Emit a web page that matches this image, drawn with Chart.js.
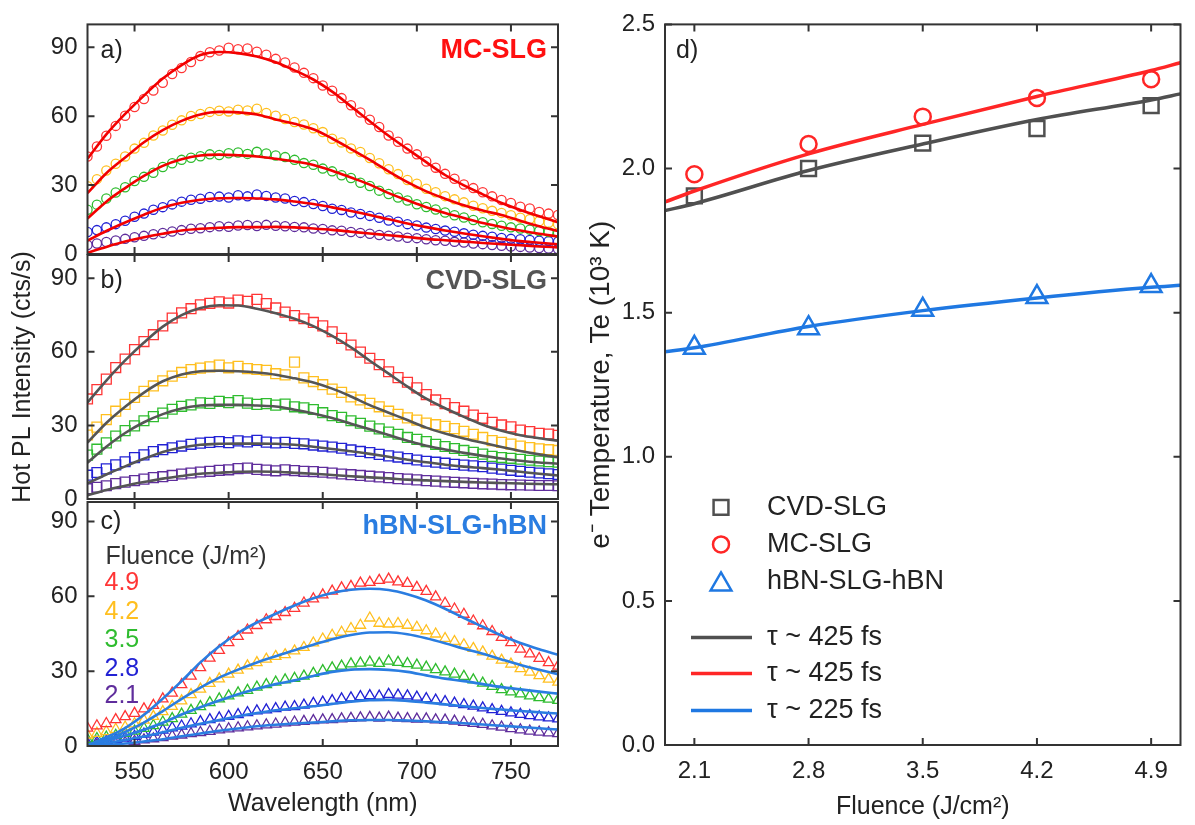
<!DOCTYPE html>
<html><head><meta charset="utf-8">
<script src="https://cdn.jsdelivr.net/npm/chart.js@4.4.0/dist/chart.umd.min.js"></script>
<style>
html,body{margin:0;padding:0;background:#fff;}
#wrap{position:relative;width:1195px;height:825px;overflow:hidden;}
canvas{position:absolute;left:0;top:0;}
</style></head><body>
<div id="wrap">
<canvas id="ca" width="1195" height="825"></canvas>
<canvas id="cb" width="1195" height="825"></canvas>
<canvas id="cc" width="1195" height="825"></canvas>
<canvas id="cd" width="1195" height="825"></canvas>
</div>
<script>
// ---------------- DATA ----------------
const wavelengths = [525,530,535,540,545,550,555,560,565,570,575,580,585,590,595,600,605,610,615,620,625,630,635,640,645,650,655,660,665,670,675,680,685,690,695,700,705,710,715,720,725,730,735,740,745,750,755,760,765,770,775];
const fitWavelengths = [525,535,545,555,565,575,585,595,605,615,625,635,645,655,665,675,685,695,705,715,725,735,745,755,765,775];
const wavelengthTicks = [550,600,650,700,750];
const intensityTicks = [0,30,60,90];
const fluenceLabels = ['4.9','4.2','3.5','2.8','2.1'];

// a) MC-SLG
const mcData49 = [42.5,46.8,51.5,55.8,60.2,64.0,67.5,71.2,74.6,78.4,81.0,83.6,86.2,87.9,88.6,89.8,89.2,89.5,88.1,86.8,85.0,83.4,81.2,78.9,76.6,73.4,71.1,67.9,64.8,61.6,58.5,55.3,51.6,48.9,45.9,43.4,40.3,37.6,34.9,32.8,30.3,28.7,26.9,25.1,23.5,22.2,20.6,19.8,18.3,17.6,17.0];
const mcData42 = [29.5,32.6,36.4,39.3,42.5,45.9,48.4,51.6,53.8,56.3,58.2,60.1,61.0,61.9,62.4,62.1,62.8,62.5,63.3,61.4,60.2,58.8,57.5,56.4,54.8,53.1,50.2,48.6,46.0,44.4,41.8,39.5,36.9,34.8,32.2,30.6,28.4,26.9,25.2,23.8,22.5,21.0,19.9,18.8,17.9,16.9,15.8,15.2,14.3,13.6,13.0];
const mcData35 = [19.3,21.5,24.2,26.8,29.1,31.8,33.6,35.4,37.9,39.5,41.0,41.9,42.6,43.4,43.1,43.9,44.2,43.6,44.5,43.8,42.9,42.2,41.0,39.6,38.9,37.2,36.0,34.3,33.1,31.0,29.6,27.6,26.1,24.6,23.3,21.7,20.5,19.4,18.1,16.9,15.9,14.8,13.8,13.1,12.3,11.6,11.1,10.6,10.0,9.6,9.2];
const mcData28 = [9.6,10.4,11.6,13.0,14.5,16.2,17.6,19.3,20.4,21.6,22.8,23.6,24.1,24.8,25.0,24.6,25.6,25.1,25.9,25.3,24.6,24.2,23.1,22.6,21.8,20.9,19.7,19.2,18.1,17.4,16.6,15.8,14.6,14.1,13.0,12.4,11.5,10.9,10.2,9.7,9.0,8.4,7.9,7.5,7.0,6.6,6.4,6.1,5.8,5.6,5.4];
const mcData21 = [3.9,4.6,5.2,5.9,6.6,7.3,7.9,8.6,9.2,9.8,10.4,11.0,11.2,11.7,12.1,11.9,12.4,12.6,12.2,12.7,12.3,12.1,11.8,11.6,11.1,10.9,10.3,10.1,9.6,9.2,8.8,8.3,8.0,7.6,7.1,6.9,6.4,6.0,5.8,5.3,5.0,4.6,4.3,3.9,3.6,3.3,3.1,2.8,2.6,2.4,2.2];
const mcFit49 = [41.5,52.1,61.0,69.0,76.4,82.3,86.7,88.0,87.5,86.0,83.5,80.0,76.0,70.7,64.3,57.8,51.5,45.7,40.0,34.4,29.9,26.0,22.2,19.2,16.4,13.8];
const mcFit42 = [26.5,35.2,42.0,48.7,54.0,58.0,60.8,61.9,61.7,60.8,58.6,56.7,54.3,50.3,45.7,41.0,36.0,31.3,27.3,24.1,21.2,18.9,17.0,14.5,12.1,10.0];
const mcFit35 = [15.5,22.8,28.7,34.0,38.4,41.3,42.9,43.3,43.0,42.5,41.5,40.3,38.8,36.3,33.3,30.2,26.5,23.4,20.4,17.9,15.7,13.5,11.8,10.2,8.8,7.6];
const mcFit28 = [5.8,10.0,13.7,17.1,20.2,22.3,23.6,24.3,24.4,24.2,23.8,22.9,21.8,20.3,18.7,17.0,15.1,13.3,11.7,10.2,8.9,7.7,6.6,5.6,4.9,4.2];
const mcFit21 = [0.6,3.1,5.4,7.3,8.8,10.2,11.0,11.4,11.7,11.7,11.8,11.6,11.1,10.5,9.7,8.9,8.2,7.4,6.6,6.0,5.4,4.8,4.3,3.8,3.3,2.9];

// b) CVD-SLG
const cvdData49 = [40.8,44.6,48.9,53.6,57.1,60.9,64.2,67.0,70.6,73.8,75.9,77.6,79.2,79.8,80.4,79.9,81.1,80.6,81.4,79.7,77.9,76.2,74.8,73.5,72.0,70.6,68.2,65.5,62.8,59.9,57.4,54.8,51.9,49.5,47.6,45.3,42.6,40.4,38.9,37.3,35.8,34.2,32.9,31.3,30.2,29.4,28.1,27.5,26.8,26.5,26.0];
const cvdData42 = [26.1,29.3,32.4,35.8,38.6,41.4,43.9,46.1,48.2,50.1,51.6,52.8,53.4,53.9,54.6,53.5,54.1,53.2,52.8,52.5,51.1,50.6,55.8,49.4,47.9,46.6,44.8,43.5,41.6,40.4,39.0,37.6,35.8,34.5,33.1,32.2,31.0,30.3,29.6,28.7,27.6,26.4,25.1,23.8,23.1,22.4,21.6,21.0,20.5,20.1,19.8];
const cvdData35 = [17.9,20.3,22.9,25.7,27.9,29.8,31.9,33.6,35.0,36.6,37.8,38.4,39.2,39.0,39.8,39.3,40.1,39.1,38.6,38.9,38.3,38.7,37.6,37.2,36.5,35.2,34.0,33.3,31.9,30.9,29.7,28.6,27.3,26.4,25.1,24.3,23.4,22.3,21.4,20.6,19.8,19.0,18.3,17.4,16.9,16.6,16.2,15.8,15.5,15.2,15.0];
const cvdData28 = [9.7,10.8,12.3,13.9,15.2,16.9,18.0,19.3,20.1,20.9,21.6,22.3,22.8,23.1,23.4,23.0,23.7,23.3,23.9,23.2,22.9,23.1,22.7,22.5,22.0,21.6,21.2,20.7,20.0,19.4,18.9,18.2,17.6,17.1,16.5,15.9,15.4,15.0,14.6,14.1,13.8,13.5,13.2,12.6,12.2,11.7,11.3,10.9,10.6,10.3,10.0];
const cvdData21 = [4.2,4.8,5.4,6.3,6.9,7.5,8.1,8.7,9.1,9.6,10.2,10.6,11.0,11.3,11.7,11.9,12.4,12.6,12.1,11.8,11.5,11.9,11.6,11.3,11.2,10.9,10.6,10.2,9.9,9.6,9.3,9.0,8.7,8.3,8.1,7.8,7.5,7.3,7.0,6.8,6.6,6.4,6.2,6.1,5.9,5.8,5.7,5.6,5.5,5.5,5.4];
const cvdFit49 = [39.4,48.3,56.5,63.8,70.3,75.0,77.9,79.0,78.9,77.6,75.7,73.5,70.5,66.5,61.8,56.4,51.1,45.8,40.9,37.0,33.5,30.3,27.8,26.0,24.8,23.8];
const cvdFit42 = [23.0,31.0,37.6,43.4,48.0,50.8,52.1,52.3,52.1,51.6,50.7,49.2,47.5,45.0,41.8,38.3,35.2,32.2,29.1,26.7,24.7,22.9,21.2,19.6,18.2,17.0];
const cvdFit35 = [14.8,21.3,26.9,31.3,34.6,36.9,38.1,38.4,38.4,38.1,37.7,36.4,34.9,33.0,30.7,28.4,26.1,23.8,21.7,20.2,18.8,17.6,16.5,15.6,14.9,14.4];
const cvdFit28 = [6.4,10.0,13.3,16.4,19.2,21.0,22.1,22.5,22.6,22.6,22.5,22.1,21.3,20.4,19.5,18.4,17.2,16.0,15.0,14.0,13.2,12.6,11.9,11.1,10.3,9.6];
const cvdFit21 = [1.5,3.7,5.4,6.9,8.3,9.4,10.3,10.7,11.1,11.2,11.1,10.7,10.3,9.8,9.3,8.8,8.4,7.9,7.6,7.3,7.0,6.7,6.5,6.3,6.1,6.0];

// c) hBN-SLG-hBN
const hbnData49 = [7.2,8.1,9.0,10.6,11.8,13.1,14.9,16.3,18.9,21.2,24.6,28.0,31.4,35.2,38.3,41.4,43.9,46.5,48.3,50.6,51.9,53.5,55.2,57.3,59.0,60.6,62.1,63.4,64.0,65.3,65.6,66.4,66.9,65.8,65.2,63.6,62.0,59.8,57.2,54.9,52.8,50.1,48.2,45.9,43.5,41.4,38.8,36.9,35.1,33.4,32.0];
const hbnData42 = [4.4,5.1,5.8,6.7,7.6,8.9,10.4,11.9,13.8,15.9,18.1,20.6,22.8,25.1,26.9,28.8,30.4,32.1,33.4,34.8,35.9,36.6,38.1,39.5,41.3,42.9,44.4,45.6,47.1,48.4,51.3,49.2,48.9,49.1,48.4,47.6,46.2,44.9,43.1,41.9,40.6,39.1,37.7,36.0,34.4,32.8,31.0,29.6,28.2,26.8,25.6];
const hbnData35 = [2.6,3.0,3.6,4.3,5.1,6.0,7.1,8.2,9.6,11.0,12.8,14.3,15.8,17.4,18.9,20.1,21.3,22.3,23.6,24.6,25.6,26.5,27.1,28.0,29.1,30.2,31.3,32.0,32.9,33.2,33.6,33.1,34.0,33.5,33.0,32.4,31.6,30.6,29.7,28.8,27.9,26.5,25.2,23.9,22.6,21.7,20.9,20.1,19.4,18.8,18.3];
const hbnData28 = [1.2,1.5,2.0,2.6,3.2,3.9,4.8,5.6,6.4,7.3,8.0,8.9,9.8,10.6,11.3,11.9,12.6,13.4,14.1,14.5,15.0,15.6,15.8,16.4,17.1,17.6,18.2,18.9,19.3,19.8,20.2,20.0,20.7,20.4,20.1,19.6,19.0,18.4,17.8,17.2,16.6,16.0,15.3,14.6,13.9,13.3,12.7,12.2,11.7,11.3,10.9];
const hbnData21 = [0.4,0.5,0.7,1.0,1.4,1.9,2.5,2.9,3.4,4.0,4.4,5.0,5.4,5.9,6.5,6.9,7.3,7.7,8.1,8.5,8.8,9.3,9.6,9.9,10.2,10.5,10.6,10.9,11.1,11.3,11.5,11.2,11.6,11.2,11.0,10.8,10.9,10.5,10.4,10.0,9.5,9.1,8.7,8.1,7.6,7.0,6.5,6.0,5.6,5.3,5.0];
const hbnFit49 = [0.3,3.5,7.2,12.5,19.0,26.0,33.5,40.0,45.3,49.5,53.0,56.3,59.2,61.3,62.6,63.0,62.5,60.8,58.3,55.0,51.3,47.8,44.3,41.3,38.8,36.6];
const hbnFit42 = [0.4,2.5,5.6,9.4,14.0,18.9,23.4,27.4,30.6,33.5,36.0,38.4,40.6,42.8,44.5,45.5,45.6,44.8,43.2,41.2,39.0,37.0,34.7,32.5,30.6,28.8];
const hbnFit35 = [0.4,2.0,4.2,6.5,9.3,12.6,15.5,18.2,20.7,22.9,24.8,26.3,28.1,29.7,30.6,30.8,30.5,29.7,28.3,27.0,26.0,24.8,23.6,22.7,21.8,21.0];
const hbnFit28 = [0.2,1.1,2.4,3.8,5.5,7.3,8.9,10.4,11.9,13.2,14.3,15.1,15.9,16.9,17.8,18.4,18.5,18.1,17.4,16.7,15.9,15.2,14.6,14.0,13.5,13.0];
const hbnFit21 = [0.0,0.4,1.0,1.8,2.7,3.9,5.0,6.1,7.0,7.9,8.5,9.0,9.4,9.9,10.3,10.4,10.4,10.2,9.9,9.5,9.1,8.6,8.1,7.6,7.1,6.6];

// d) electron temperature vs fluence
const fluence = [2.1,2.8,3.5,4.2,4.9];
const fluenceTicks = [2.1,2.8,3.5,4.2,4.9];
const tempTicks = [0,0.5,1.0,1.5,2.0,2.5];
const cvdTemp = [1.905,2.000,2.088,2.139,2.218];
const mcTemp = [1.980,2.085,2.180,2.245,2.310];
const hbnTemp = [1.378,1.446,1.510,1.554,1.592];
const fitFluence = [1.92,2.1,2.8,3.5,4.2,4.9,5.08];
const cvdTempFit = [1.854,1.878,1.993,2.085,2.170,2.238,2.259];
const mcTempFit = [1.884,1.922,2.051,2.153,2.250,2.340,2.367];
const hbnTempFit = [1.364,1.378,1.452,1.507,1.551,1.588,1.595];
const sampleNames = ['CVD-SLG','MC-SLG','hBN-SLG-hBN'];
const fitLabels = ['\u03C4 ~ 425 fs','\u03C4 ~ 425 fs','\u03C4 ~ 225 fs'];

// ---------------- STYLE ----------------
const FONT = '"Liberation Sans", Arial, Helvetica, sans-serif';
Chart.defaults.font.family = FONT;
Chart.defaults.color = '#222';
const seriesColors = ['#ff3535','#ffbf1f','#2fbc2f','#2222d4','#5f2d9c'];
const tempColors = ['#505050','#ff2626','#1f78e2'];
const tempStyles = [{s:'rect',r:10.5},{s:'circle',r:8},{s:'triangle',r:12}];

function pts(xs, ys) { return xs.map((x, i) => ({x: x, y: ys[i]})); }

function drawMarker(ctx, style, r, x, y) {
  ctx.beginPath();
  if (style === 'circle') ctx.arc(x, y, r, 0, Math.PI * 2);
  else if (style === 'rect') { const s = r * Math.SQRT1_2; ctx.rect(x - s, y - s, 2 * s, 2 * s); }
  else {
    for (let k = 0; k < 3; k++) {
      const ang = k * 2 * Math.PI / 3;
      const px = x + Math.sin(ang) * r, py = y - Math.cos(ang) * r;
      if (k) ctx.lineTo(px, py); else ctx.moveTo(px, py);
    }
    ctx.closePath();
  }
  ctx.stroke();
}

const framePlugin = {
  id: 'frame',
  afterDraw(chart, args, o) {
    const ctx = chart.ctx, a = chart.chartArea, xs = chart.scales.x, ys = chart.scales.y;
    ctx.save();
    ctx.lineWidth = 2; ctx.strokeStyle = '#333';
    ctx.strokeRect(a.left, a.top, a.right - a.left, a.bottom - a.top);
    const L = 7;
    ctx.beginPath();
    o.xTicks.forEach(v => { const p = xs.getPixelForValue(v); ctx.moveTo(p, a.bottom); ctx.lineTo(p, a.bottom - L); ctx.moveTo(p, a.top); ctx.lineTo(p, a.top + L); });
    o.yTicks.forEach(v => { const p = ys.getPixelForValue(v); ctx.moveTo(a.left, p); ctx.lineTo(a.left + L, p); ctx.moveTo(a.right, p); ctx.lineTo(a.right - L, p); });
    ctx.stroke();
    ctx.textBaseline = 'middle';
    (o.texts || []).forEach(t => {
      ctx.font = (t.bold ? 'bold ' : '') + t.size + 'px ' + FONT;
      ctx.fillStyle = t.color || '#222';
      ctx.textAlign = t.right ? 'right' : 'left';
      ctx.fillText(t.text, t.right ? a.right - t.dx : a.left + t.dx, a.top + t.dy);
    });
    if (o.legend) o.legend(ctx, a);
    ctx.restore();
  }
};

function spectraChart(id, o) {
  const datasets = [];
  o.fits.forEach(f => datasets.push({
    type: 'line', data: pts(fitWavelengths, f), borderColor: o.fitColor, borderWidth: 2.6,
    pointRadius: 0, fill: false, cubicInterpolationMode: 'monotone', order: 0, clip: 0
  }));
  o.data.forEach((d, i) => datasets.push({
    type: 'scatter', data: pts(wavelengths, d), showLine: false, pointStyle: o.marker,
    pointRadius: o.radius, pointBorderWidth: 1.3, pointBorderColor: seriesColors[i],
    pointBackgroundColor: 'rgba(0,0,0,0)', order: 1, clip: 0
  }));
  return new Chart(document.getElementById(id), {
    type: 'scatter',
    data: {datasets: datasets},
    options: {
      responsive: false, animation: false, devicePixelRatio: 1, events: [],
      layout: {padding: o.padding},
      plugins: {legend: {display: false}, tooltip: {enabled: false},
        frame: {xTicks: wavelengthTicks, yTicks: intensityTicks, texts: o.texts}},
      scales: {
        x: {type: 'linear', min: 525, max: 775, position: 'bottom',
          afterBuildTicks: s => { s.ticks = wavelengthTicks.map(v => ({value: v})); },
          afterFit: s => { s.height = o.bottomAxis ? 79 : 0; },
          grid: {display: false, drawTicks: false}, border: {display: false},
          ticks: {display: !!o.bottomAxis, autoSkip: false, maxRotation: 0, padding: 12, color: '#222', font: {size: 24}},
          title: {display: !!o.bottomAxis, text: 'Wavelength (nm)', color: '#222', font: {size: 25}, padding: {top: 0, bottom: 6}}
        },
        y: {type: 'linear', min: 0, max: o.ymax, position: 'left',
          afterBuildTicks: s => { s.ticks = intensityTicks.map(v => ({value: v})); },
          afterFit: s => { s.width = 87.5; },
          grid: {display: false, drawTicks: false}, border: {display: false},
          ticks: {padding: 10, color: '#222', font: {size: 24}},
          title: {display: !!o.yTitle, text: 'Hot PL Intensity (cts/s)', color: '#222', font: {size: 25}, padding: {top: 8, bottom: 0}}
        }
      }
    },
    plugins: [framePlugin]
  });
}

spectraChart('ca', {
  data: [mcData49, mcData42, mcData35, mcData28, mcData21],
  fits: [mcFit49, mcFit42, mcFit35, mcFit28, mcFit21],
  fitColor: '#f20000', marker: 'circle', radius: 4.6, ymax: 100,
  padding: {left: 0, top: 9, right: 637, bottom: 571},
  texts: [{text: 'a)', dx: 13, dy: 27, size: 25},
          {text: 'MC-SLG', right: true, dx: 11, dy: 26, size: 27, bold: true, color: '#ff1010'}]
});
spectraChart('cb', {
  data: [cvdData49, cvdData42, cvdData35, cvdData28, cvdData21],
  fits: [cvdFit49, cvdFit42, cvdFit35, cvdFit28, cvdFit21],
  fitColor: '#555555', marker: 'rect', radius: 7, ymax: 99.5, yTitle: true,
  padding: {left: 0, top: 255, right: 637, bottom: 326},
  texts: [{text: 'b)', dx: 13, dy: 26, size: 25},
          {text: 'CVD-SLG', right: true, dx: 11, dy: 27, size: 27, bold: true, color: '#555555'}]
});
spectraChart('cc', {
  data: [hbnData49, hbnData42, hbnData35, hbnData28, hbnData21],
  fits: [hbnFit49, hbnFit42, hbnFit35, hbnFit28, hbnFit21],
  fitColor: '#2a7de1', marker: 'triangle', radius: 6, ymax: 97.8, bottomAxis: true,
  padding: {left: 0, top: 502, right: 637, bottom: 0},
  texts: [{text: 'c)', dx: 13, dy: 20, size: 25},
          {text: 'hBN-SLG-hBN', right: true, dx: 11, dy: 25, size: 27, bold: true, color: '#2a7de1'},
          {text: 'Fluence (J/m\u00B2)', dx: 18, dy: 55, size: 25, color: '#333'}]
    .concat(fluenceLabels.map((t, i) => ({text: t, dx: 17, dy: [81, 110, 138, 167, 194][i], size: 25, color: seriesColors[i]})))
});

// panel d
new Chart(document.getElementById('cd'), {
  type: 'scatter',
  data: {datasets: [
    {type: 'line', data: pts(fitFluence, cvdTempFit), borderColor: tempColors[0], borderWidth: 3.5, pointRadius: 0, cubicInterpolationMode: 'monotone', order: 0, clip: 0},
    {type: 'line', data: pts(fitFluence, mcTempFit), borderColor: tempColors[1], borderWidth: 3.5, pointRadius: 0, cubicInterpolationMode: 'monotone', order: 0, clip: 0},
    {type: 'line', data: pts(fitFluence, hbnTempFit), borderColor: tempColors[2], borderWidth: 3.5, pointRadius: 0, cubicInterpolationMode: 'monotone', order: 0, clip: 0},
    {type: 'scatter', data: pts(fluence, cvdTemp), pointStyle: 'rect', pointRadius: 10.5, pointBorderWidth: 2.5, pointBorderColor: tempColors[0], pointBackgroundColor: 'rgba(255,255,255,0)', order: 1},
    {type: 'scatter', data: pts(fluence, mcTemp), pointStyle: 'circle', pointRadius: 8, pointBorderWidth: 2.5, pointBorderColor: tempColors[1], pointBackgroundColor: 'rgba(255,255,255,0)', order: 1},
    {type: 'scatter', data: pts(fluence, hbnTemp), pointStyle: 'triangle', pointRadius: 12, pointBorderWidth: 2.5, pointBorderColor: tempColors[2], pointBackgroundColor: 'rgba(255,255,255,0)', order: 1}
  ]},
  options: {
    responsive: false, animation: false, devicePixelRatio: 1, events: [],
    layout: {padding: {left: 580, top: 10, right: 9, bottom: 0}},
    plugins: {legend: {display: false}, tooltip: {enabled: false},
      frame: {xTicks: fluenceTicks, yTicks: tempTicks,
        texts: [{text: 'd)', dx: 11, dy: 27, size: 25}],
        legend: (ctx, a) => {
          ctx.font = '27px ' + FONT; ctx.textAlign = 'left'; ctx.textBaseline = 'middle';
          sampleNames.forEach((name, i) => {
            const y = a.top + [483, 520, 557][i];
            ctx.strokeStyle = tempColors[i]; ctx.lineWidth = 2.5;
            drawMarker(ctx, tempStyles[i].s, tempStyles[i].r, a.left + 56, y + (i === 2 ? 3 : 0));
            ctx.fillStyle = '#222'; ctx.fillText(name, a.left + 102, y);
          });
          fitLabels.forEach((lab, i) => {
            const y = a.top + [613, 649, 686][i];
            ctx.strokeStyle = tempColors[i]; ctx.lineWidth = 3.5;
            ctx.beginPath(); ctx.moveTo(a.left + 26, y); ctx.lineTo(a.left + 87, y); ctx.stroke();
            ctx.fillStyle = '#222'; ctx.fillText(lab, a.left + 102, y);
          });
        }}},
    scales: {
      x: {type: 'linear', min: 1.92, max: 5.08, position: 'bottom',
        afterBuildTicks: s => { s.ticks = fluenceTicks.map(v => ({value: v})); },
        afterFit: s => { s.height = 80; },
        grid: {display: false, drawTicks: false}, border: {display: false},
        ticks: {autoSkip: false, maxRotation: 0, padding: 12, color: '#222', font: {size: 24}, callback: v => Number(v).toFixed(1)},
        title: {display: true, text: 'Fluence (J/cm\u00B2)', color: '#222', font: {size: 25}, padding: {top: 0, bottom: 3}}
      },
      y: {type: 'linear', min: 0, max: 2.5, position: 'left',
        afterBuildTicks: s => { s.ticks = tempTicks.map(v => ({value: v})); },
        afterFit: s => { s.width = 85; },
        grid: {display: false, drawTicks: false}, border: {display: false},
        ticks: {padding: 10, color: '#222', font: {size: 24}, callback: v => Number(v).toFixed(1)},
        title: {display: true, text: 'e\u207B Temperature, Te (10\u00B3 K)', color: '#222', font: {size: 28}, padding: {top: 4, bottom: 0}}
      }
    }
  },
  plugins: [framePlugin]
});
</script>
</body></html>
